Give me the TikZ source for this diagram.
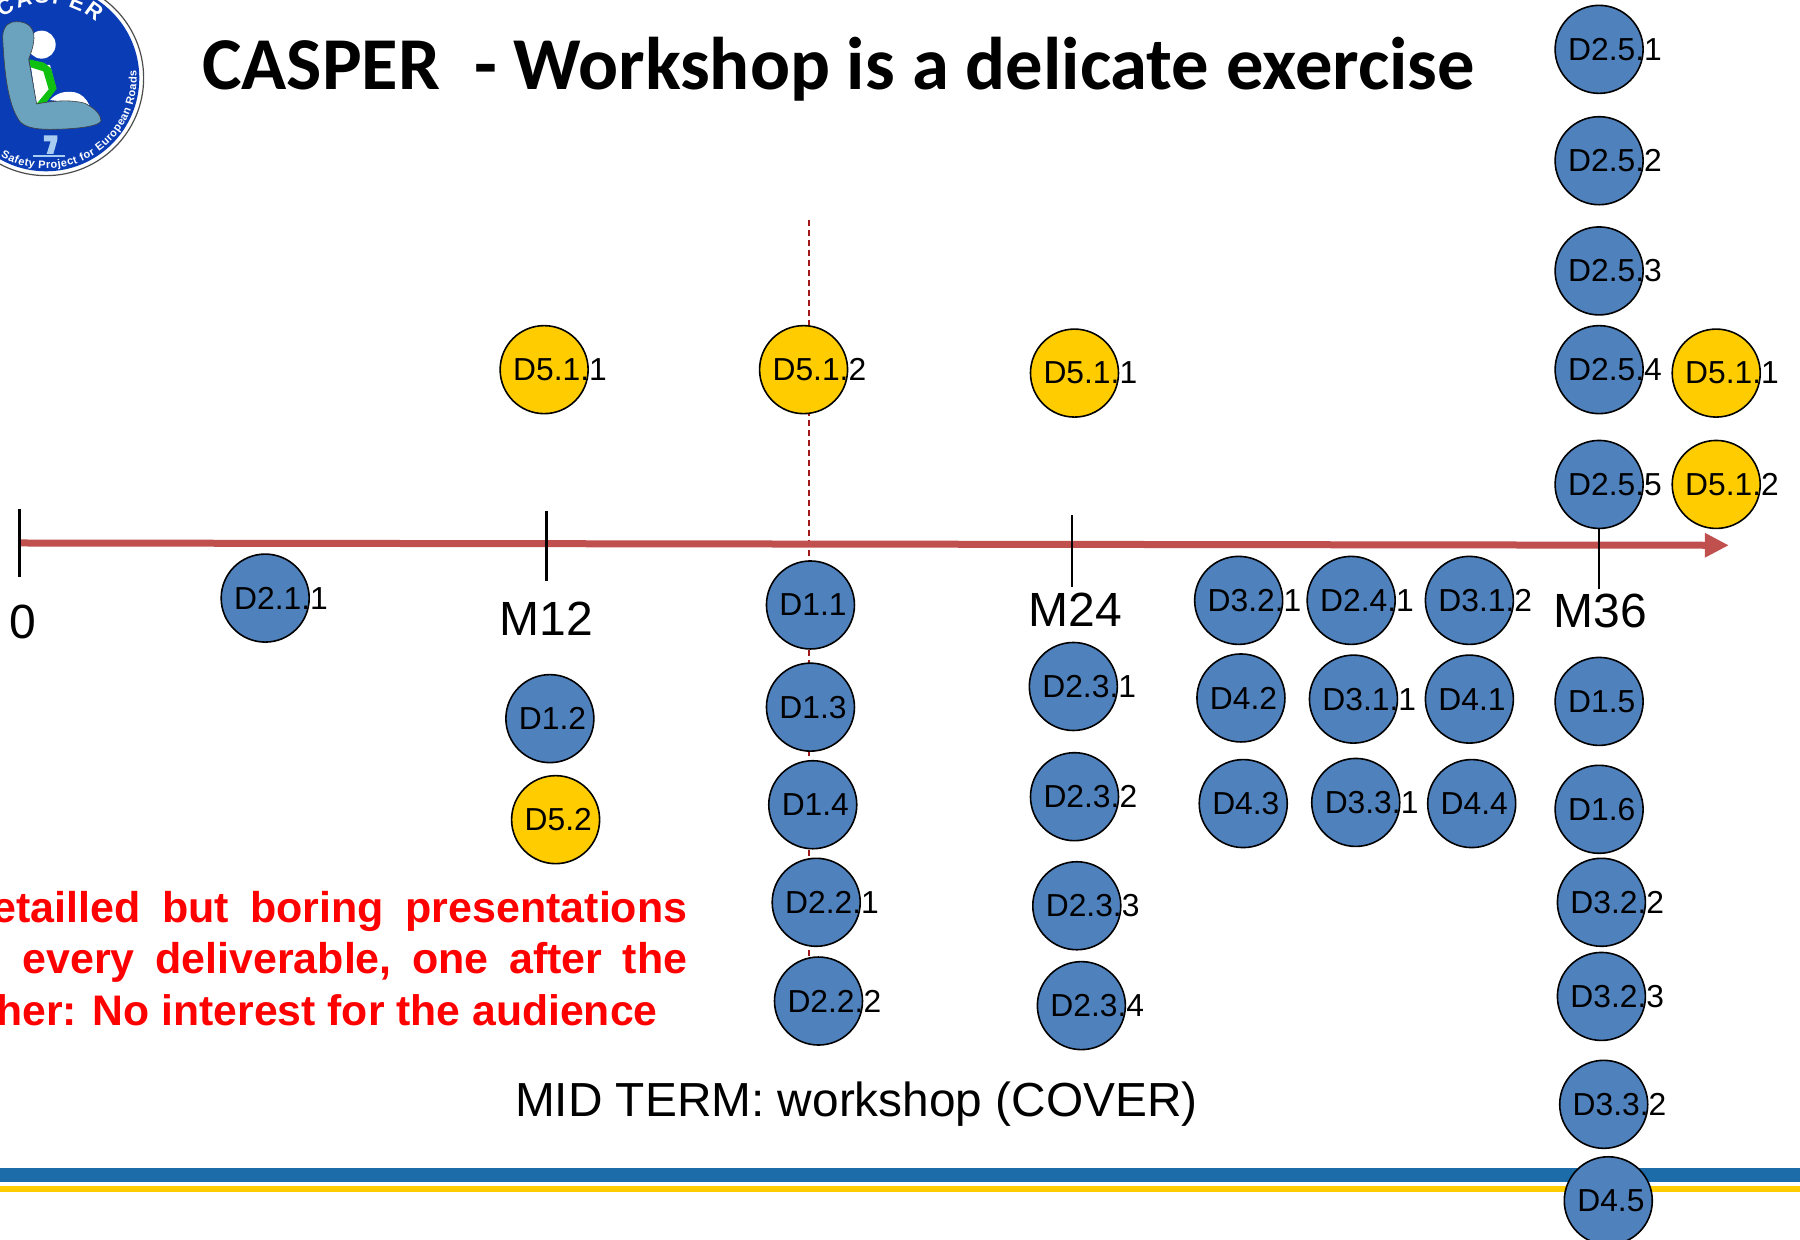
\documentclass[tikz,border=0pt]{standalone}
\usepackage{fontspec}
\setmainfont{Liberation Sans}
\newfontfamily\titlefont{Carlito}
\usetikzlibrary{arrows.meta,decorations.text}
\definecolor{delblue}{HTML}{4F81BD}
\definecolor{delyellow}{HTML}{FFCC00}
\definecolor{axisred}{HTML}{C0504D}
\definecolor{dashred}{HTML}{A01818}
\definecolor{bandblue}{HTML}{1B6CA8}
\definecolor{logoblue}{HTML}{0A3DB5}
\definecolor{seatblue}{HTML}{6BA3BF}
\definecolor{beltgreen}{HTML}{10C010}
\definecolor{sevenblue}{HTML}{A9CDF0}
\newcommand{\dtxt}[1]{\makebox[0pt][l]{\hspace{-31pt}\raisebox{-1pt}{#1}}}
\tikzset{
  delbase/.style={circle,draw=black,line width=1.6pt,minimum size=88pt,inner sep=0pt,font=\fontsize{31.8}{36}\selectfont},
  bluec/.style={delbase,fill=delblue},
  yelc/.style={delbase,fill=delyellow},
  tick/.style={draw=black,line width=2.5pt},
  axislabel/.style={font=\fontsize{48}{56}\selectfont,inner sep=0pt},
  redline/.style={font=\fontsize{43}{50}\selectfont\bfseries,text=red,inner sep=0pt,anchor=base east},
}
\begin{document}
\begin{tikzpicture}[x=1.148pt,y=-1.148pt]
\useasboundingbox (0,0) rectangle (1568,1080);
\clip (0,0) rectangle (1568,1080);
\fill[white] (0,0) rectangle (1568,1080);
% logo
\begin{scope}[x=0.3333pt,y=-0.3333pt]
  \filldraw[fill=white,draw=black!70,line width=1.2pt] (138,234) circle (293);
  \fill[logoblue] (138,234) circle (280);
  \path[decorate,decoration={text along path,text align=fit to path,text={|\fontsize{22}{25}\selectfont\bfseries\color{white}|CASPER}}]
    (6.3,52.8) arc[start angle=234,end angle=312,radius=224];
  \path[decorate,decoration={text along path,text align=fit to path,text={|\fontsize{11}{14}\selectfont\bfseries\color{white}|Safety Project for European Roads}}]
    (2,469.6) arc[start angle=120,end angle=-5,radius=272];
  \fill[white] (125,134) circle (42);
  \fill[white] (92,195) -- (150,195) -- (168,265) -- (135,306) -- (110,314) -- cycle;
  \fill[white] (150,300) .. controls (170,280) and (190,272) .. (225,277) .. controls (245,282) and (258,295) .. (268,315) -- cycle;
  \fill[beltgreen] (88,178) -- (132,188) -- (153,205) -- (170,266) -- (140,306) -- (106,316) -- (146,268) -- (130,214) -- (92,202) -- cycle;
  \filldraw[fill=seatblue,draw=black!75,line width=.6pt]
    (8,110) .. controls (10,75) and (30,64) .. (50,65)
    .. controls (85,65) and (103,85) .. (102,115)
    .. controls (100,145) and (90,165) .. (86,178)
    -- (110,312) .. controls (170,300) and (220,300) .. (255,310)
    .. controls (285,325) and (303,345) .. (303,362)
    .. controls (300,380) and (220,388) .. (150,388)
    .. controls (100,388) and (75,380) .. (60,365)
    .. controls (35,330) and (15,270) .. (8,110) -- cycle;
  \fill[sevenblue] (132,406) -- (172,406) -- (172,420) -- (160,462) -- (140,462) -- (152,424) -- (132,424) -- cycle;
  \fill[sevenblue] (100,466) -- (195,466) -- (195,470) -- (100,470) -- cycle;
\end{scope}
% title
\node[anchor=west,inner sep=0pt,font=\titlefont\fontsize{74.6}{88}\selectfont\bfseries] (title) at (176,60) {CASPER\ \ - Workshop is a delicate exercise};
% bands
\fill[bandblue] (0,1017.5) rectangle (1568,1029.5);
\fill[delyellow] (0,1033.5) rectangle (1568,1038.7);
% axis coordinates
\coordinate (a0) at (17,473);
\coordinate (a1) at (1506,475);
\coordinate (t0a) at (17,443); \coordinate (t0b) at (17,503);
\coordinate (t1a) at (476,445); \coordinate (t1b) at (476,506);
\coordinate (t2a) at (934,449); \coordinate (t2b) at (934,511);
\coordinate (t3a) at (1393,460); \coordinate (t3b) at (1393,513);
\coordinate (da) at (705,192); \coordinate (db) at (705,835);
\draw[draw=dashred,line width=2pt,dash pattern=on 6pt off 4pt] (da) -- (db);
\draw[axisred,line width=7pt,-{Triangle[width=23pt,length=24pt]}] (a0) -- (a1);
\draw[tick] (t0a) -- (t0b);
\draw[tick] (t1a) -- (t1b);
\draw[tick] (t2a) -- (t2b);
\draw[tick] (t3a) -- (t3b);
% axis labels
\node[axislabel] (m0) at (20,542) {0};
\node[axislabel] (m12) at (476,539) {M12};
\node[axislabel] (m24) at (937,531) {M24};
\node[axislabel] (m36) at (1394,532) {M36};
% deliverables
\node[bluec] (d211) at (231,521) {\dtxt{D2.1.1}};
\node[yelc] (y511a) at (474,322) {\dtxt{D5.1.1}};
\node[bluec] (d12) at (479,626) {\dtxt{D1.2}};
\node[yelc] (y52) at (484,714) {\dtxt{D5.2}};
\node[yelc] (y512a) at (700,322) {\dtxt{D5.1.2}};
\node[bluec] (d11) at (706,527) {\dtxt{D1.1}};
\node[bluec] (d13) at (706,616) {\dtxt{D1.3}};
\node[bluec] (d14) at (708,701) {\dtxt{D1.4}};
\node[bluec] (d221) at (711,786) {\dtxt{D2.2.1}};
\node[bluec] (d222) at (713,872) {\dtxt{D2.2.2}};
\node[yelc] (y511b) at (936,325) {\dtxt{D5.1.1}};
\node[bluec] (d231) at (935,598) {\dtxt{D2.3.1}};
\node[bluec] (d232) at (936,694) {\dtxt{D2.3.2}};
\node[bluec] (d233) at (938,789) {\dtxt{D2.3.3}};
\node[bluec] (d234) at (942,876) {\dtxt{D2.3.4}};
\node[bluec] (d321) at (1079,523) {\dtxt{D3.2.1}};
\node[bluec] (d241) at (1177,523) {\dtxt{D2.4.1}};
\node[bluec] (d312) at (1280,523) {\dtxt{D3.1.2}};
\node[bluec] (d42) at (1081,608) {\dtxt{D4.2}};
\node[bluec] (d311) at (1179,609) {\dtxt{D3.1.1}};
\node[bluec] (d41) at (1280,609) {\dtxt{D4.1}};
\node[bluec] (d43) at (1083,700) {\dtxt{D4.3}};
\node[bluec] (d331) at (1181,699) {\dtxt{D3.3.1}};
\node[bluec] (d44) at (1282,700) {\dtxt{D4.4}};
\node[bluec] (d251) at (1393,43) {\dtxt{D2.5.1}};
\node[bluec] (d252) at (1393,140) {\dtxt{D2.5.2}};
\node[bluec] (d253) at (1393,236) {\dtxt{D2.5.3}};
\node[bluec] (d254) at (1393,322) {\dtxt{D2.5.4}};
\node[bluec] (d255) at (1393,422) {\dtxt{D2.5.5}};
\node[yelc] (y511c) at (1495,325) {\dtxt{D5.1.1}};
\node[yelc] (y512c) at (1495,422) {\dtxt{D5.1.2}};
\node[bluec] (d15) at (1393,611) {\dtxt{D1.5}};
\node[bluec] (d16) at (1393,705) {\dtxt{D1.6}};
\node[bluec] (d322) at (1395,786) {\dtxt{D3.2.2}};
\node[bluec] (d323) at (1395,868) {\dtxt{D3.2.3}};
\node[bluec] (d332) at (1397,962) {\dtxt{D3.3.2}};
\node[bluec] (d45) at (1401,1046) {\dtxt{D4.5}};
% red text
\node[redline] (r1) at (599,804) {\makebox[695pt][s]{etailled\hfill but\hfill boring\hfill presentations}};
\node[redline] (r2) at (599,848) {\makebox[665pt][s]{every\hfill deliverable,\hfill one\hfill after\hfill the}};
\node[redline,font=\fontsize{42.7}{50}\selectfont\bfseries] (r3) at (573,893) {her: No interest for the audience};
% footer text
\node[axislabel,anchor=base,font=\fontsize{47.8}{56}\selectfont] (mid) at (746,973) {MID TERM: workshop (COVER)};
\end{tikzpicture}
\end{document}
